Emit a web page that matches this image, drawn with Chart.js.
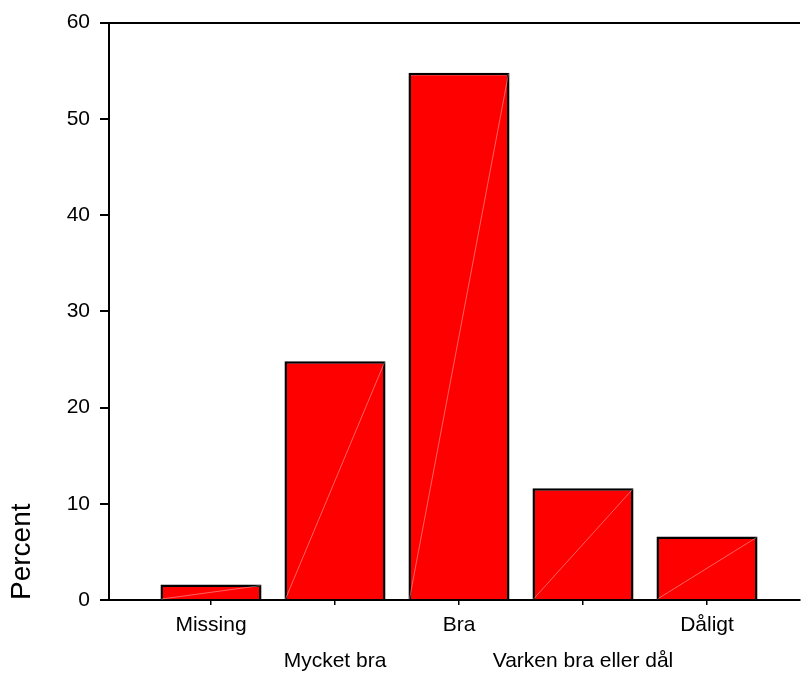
<!DOCTYPE html>
<html>
<head>
<meta charset="utf-8">
<script src="https://cdn.jsdelivr.net/npm/chart.js@4/dist/chart.umd.min.js"></script>
<style>
    html, body { margin: 0; padding: 0; background: #fff; }
    #wrap { width: 802px; height: 673px; }
</style>
</head>
<body>
<div id="wrap"><canvas id="barChart"></canvas></div>
<script>
const categories = ["Missing", "Mycket bra", "Bra", "Varken bra eller dål", "Dåligt"];
const percents = [1.6, 24.8, 54.8, 11.6, 6.6];
const yTicks = [0, 10, 20, 30, 40, 50, 60];

Chart.defaults.font.family = "'Liberation Sans', Arial, sans-serif";
Chart.defaults.color = "#000";

// faint white diagonal across each bar, as in the original rendering
const diagonalPlugin = {
    id: "diagonal",
    afterDatasetsDraw(chart) {
        const ctx = chart.ctx;
        const meta = chart.getDatasetMeta(0);
        ctx.save();
        ctx.strokeStyle = "rgba(255, 255, 255, 0.55)";
        ctx.lineWidth = 0.7;
        meta.data.forEach((bar) => {
            const half = bar.width / 2;
            ctx.beginPath();
            ctx.moveTo(bar.x - half + 1, bar.base);
            ctx.lineTo(bar.x + half - 1, bar.y + 1);
            ctx.stroke();
        });
        ctx.restore();
    },
};

const ctx = document.getElementById("barChart").getContext("2d");

new Chart(ctx, {
    type: "bar",
    data: {
        datasets: [
            {
                data: percents.map((v, i) => ({ x: i, y: v })),
                backgroundColor: "#ff0000",
                borderColor: "#000",
                borderWidth: 2.5,
                categoryPercentage: 1,
                barPercentage: 0.815,
            },
        ],
    },
    options: {
        responsive: true,
        maintainAspectRatio: false,
        animation: false,
        layout: { padding: { top: 20, right: 2, left: 0, bottom: 0 } },
        plugins: {
            legend: { display: false },
            tooltip: { enabled: false },
        },
        scales: {
            x: {
                type: "linear",
                offset: false,
                min: -0.8226,
                max: 4.75,
                afterBuildTicks: (axis) => {
                    axis.ticks = categories.map((_, i) => ({ value: i }));
                },
                afterFit: (axis) => {
                    axis.height = 73;
                },
                ticks: {
                    callback: (value) => {
                        const i = Math.round(value);
                        return i % 2 === 0 ? [categories[i]] : ["", categories[i]];
                    },
                    maxRotation: 0,
                    autoSkip: false,
                    padding: 2,
                    font: { size: 21, lineHeight: "36px" },
                },
                grid: {
                    offset: false,
                    drawOnChartArea: false,
                    tickLength: 5,
                    tickColor: "#000",
                    lineWidth: 1.5,
                },
                border: { color: "#000", width: 2 },
            },
            y: {
                min: 0,
                max: 60,
                afterBuildTicks: (axis) => {
                    axis.ticks = yTicks.map((v) => ({ value: v }));
                },
                afterFit: (axis) => {
                    axis.width = 109;
                },
                ticks: {
                    padding: 10,
                    font: { size: 21 },
                },
                grid: {
                    tickLength: 9,
                    tickColor: "#000",
                    lineWidth: 2,
                    color: (c) => (c.tick && c.tick.value === 60 ? "#000" : "rgba(0,0,0,0)"),
                },
                border: { color: "#000", width: 2 },
                title: {
                    display: true,
                    text: "Percent",
                    align: "start",
                    font: { size: 28 },
                    padding: { top: 5, bottom: 0 },
                },
            },
        },
    },
    plugins: [diagonalPlugin],
});
</script>
</body>
</html>
